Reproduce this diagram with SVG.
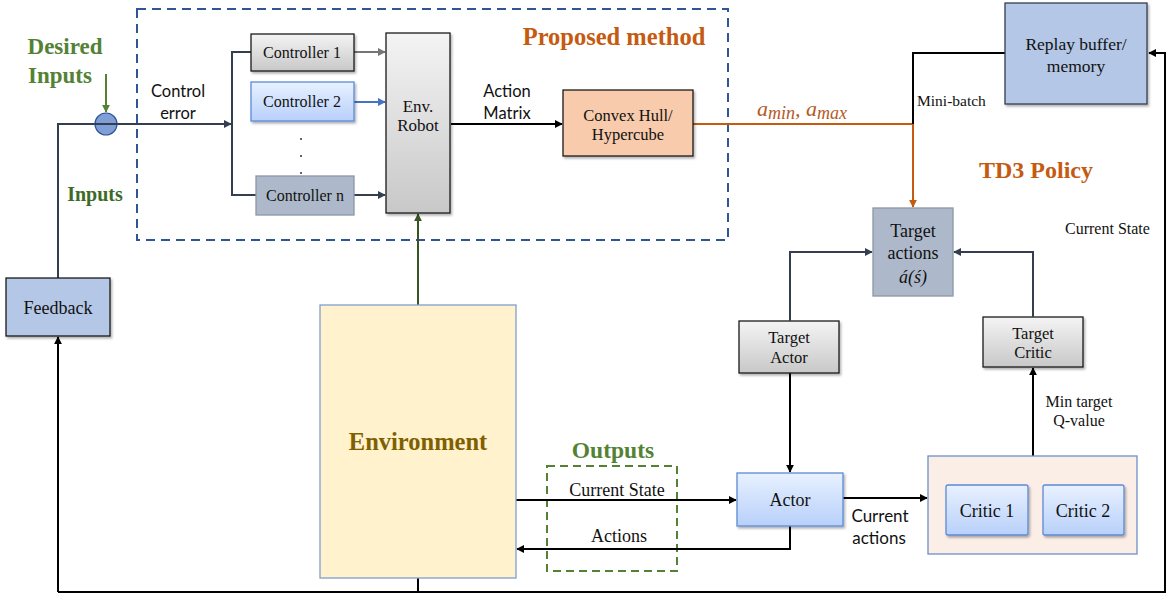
<svg xmlns="http://www.w3.org/2000/svg" width="1167" height="597" viewBox="0 0 1167 597">
<defs>
<linearGradient id="gGray" x1="0" y1="0" x2="0" y2="1"><stop offset="0" stop-color="#f4f4f4"/><stop offset="1" stop-color="#c8c8c8"/></linearGradient>
<linearGradient id="gBlue" x1="0" y1="0" x2="0" y2="1"><stop offset="0" stop-color="#e8f1ff"/><stop offset="1" stop-color="#b8d0fa"/></linearGradient>
<filter id="sh" x="-10%" y="-10%" width="130%" height="130%"><feDropShadow dx="1.5" dy="2" stdDeviation="0.8" flood-color="#000" flood-opacity="0.3"/></filter>
<marker id="aK" viewBox="0 0 10 10" refX="9" refY="5" markerWidth="8" markerHeight="8" markerUnits="userSpaceOnUse" orient="auto"><path d="M0,0 L10,5 L0,10 z" fill="#000"/></marker>
<marker id="aS" viewBox="0 0 10 10" refX="9" refY="5" markerWidth="8" markerHeight="8" markerUnits="userSpaceOnUse" orient="auto"><path d="M0,0 L10,5 L0,10 z" fill="#333f50"/></marker>
<marker id="aG" viewBox="0 0 10 10" refX="9" refY="5" markerWidth="8" markerHeight="8" markerUnits="userSpaceOnUse" orient="auto"><path d="M0,0 L10,5 L0,10 z" fill="#767676"/></marker>
<marker id="aB" viewBox="0 0 10 10" refX="9" refY="5" markerWidth="8" markerHeight="8" markerUnits="userSpaceOnUse" orient="auto"><path d="M0,0 L10,5 L0,10 z" fill="#4472c4"/></marker>
<marker id="aGr" viewBox="0 0 10 10" refX="9" refY="5" markerWidth="8" markerHeight="8" markerUnits="userSpaceOnUse" orient="auto"><path d="M0,0 L10,5 L0,10 z" fill="#548235"/></marker>
<marker id="aDG" viewBox="0 0 10 10" refX="9" refY="5" markerWidth="8" markerHeight="8" markerUnits="userSpaceOnUse" orient="auto"><path d="M0,0 L10,5 L0,10 z" fill="#375623"/></marker>
<marker id="aO" viewBox="0 0 10 10" refX="9" refY="5" markerWidth="8" markerHeight="8" markerUnits="userSpaceOnUse" orient="auto"><path d="M0,0 L10,5 L0,10 z" fill="#c55a11"/></marker>
</defs>
<style>
.t{font-family:"Liberation Serif","Times New Roman",serif;fill:#111;text-anchor:middle}
.s{font-family:Lato,"Liberation Sans",sans-serif;fill:#111;text-anchor:middle}
.b{font-family:"Liberation Serif","Times New Roman",serif;font-weight:bold;text-anchor:middle}
.box{stroke:#1a1a1a;stroke-width:1.3}
.c{fill:none;stroke-width:2}
</style>
<rect width="1167" height="597" fill="#fff"/>

<!-- frames -->
<g id="proposed-frame">
<rect x="137" y="9" width="591" height="231" fill="none" stroke="#2f5597" stroke-width="2" stroke-dasharray="9,6"/>
<text class="b" x="614" y="45" font-size="24.5" fill="#c55a11">Proposed method</text>
</g>
<g id="outputs-frame">
<rect x="547" y="466" width="130" height="105" fill="none" stroke="#548235" stroke-width="2" stroke-dasharray="8,5"/>
<text class="b" x="613" y="458" font-size="23.5" fill="#548235">Outputs</text>
</g>

<!-- connectors -->
<g id="connectors">
<path class="c" d="M58,279 V124 H231" stroke="#333f50" marker-end="url(#aS)"/>
<path class="c" d="M251,52 H232 V195 H256" stroke="#333f50"/>
<path class="c" d="M106,74 V112" stroke="#548235" stroke-width="1.6" marker-end="url(#aGr)"/>
<path class="c" d="M354,52 H385" stroke="#767676" marker-end="url(#aG)"/>
<path class="c" d="M354,102 H385" stroke="#4472c4" marker-end="url(#aB)"/>
<path class="c" d="M354,195 H385" stroke="#333f50" marker-end="url(#aS)"/>
<path class="c" d="M451,124 H562" stroke="#000" marker-end="url(#aK)"/>
<path class="c" d="M418,305 V214" stroke="#375623" marker-end="url(#aDG)"/>
<path class="c" d="M693,124 H913 V207" stroke="#c55a11" marker-end="url(#aO)"/>
<path class="c" d="M1005,53 H913 V124" stroke="#000"/>
<path class="c" d="M418,574 V592 M58,592 H1165 V53 H1149" stroke="#000" marker-end="url(#aK)"/>
<path class="c" d="M58,592 V337" stroke="#000" marker-end="url(#aK)"/>
<path class="c" d="M790,320 V252 H872" stroke="#333f50" marker-start="url(#aS)" marker-end="url(#aS)"/>
<path class="c" d="M1033,316 V252 H954" stroke="#333f50" marker-start="url(#aS)" marker-end="url(#aS)"/>
<path class="c" d="M790,373 V472" stroke="#000" marker-end="url(#aK)"/>
<path class="c" d="M516,500 H736" stroke="#000" marker-end="url(#aK)"/>
<path class="c" d="M790,526 V549 H517" stroke="#000" marker-end="url(#aK)"/>
<path class="c" d="M843,498 H927" stroke="#000" marker-end="url(#aK)"/>
<path class="c" d="M1033,456 V368" stroke="#000" marker-end="url(#aK)"/>
</g>

<!-- labels on connectors / free text -->
<g id="labels">
<text class="b" x="65" y="54" font-size="23" fill="#548235">Desired</text>
<text class="b" x="60" y="83" font-size="23" fill="#548235">Inputs</text>
<text class="b" x="95" y="201" font-size="20" fill="#3d6b25">Inputs</text>
<text class="s" x="178" y="97" font-size="16.5">Control</text>
<text class="s" x="178" y="119" font-size="16.5">error</text>
<text class="s" x="507" y="97" font-size="16.5">Action</text>
<text class="s" x="507" y="119" font-size="16.5">Matrix</text>
<text x="757" y="116" font-family="'Liberation Serif',serif" font-style="italic" font-size="22" fill="#b35a1f">a<tspan font-size="18" dy="3">min</tspan><tspan dy="-3">, a</tspan><tspan font-size="18" dy="3">max</tspan></text>
<text x="917" y="106" font-family="'Liberation Serif',serif" font-size="15.5" fill="#111">Mini-batch</text>
<text class="b" x="1036" y="178" font-size="24" fill="#c55a11">TD3 Policy</text>
<text x="1065" y="234" font-family="'Liberation Serif',serif" font-size="16" fill="#111">Current State</text>
<text class="t" x="617" y="496" font-size="18">Current State</text>
<text class="t" x="619" y="542" font-size="18">Actions</text>
<text class="s" x="880" y="522" font-size="17">Current</text>
<text class="s" x="879" y="544" font-size="17">actions</text>
<text class="t" x="1079" y="407" font-size="16">Min target</text>
<text class="t" x="1079" y="426" font-size="16">Q-value</text>
</g>
<g id="dots" fill="#333"><circle cx="301" cy="139" r="1"/><circle cx="301" cy="156" r="1"/><circle cx="301" cy="173" r="1"/></g>

<!-- nodes -->
<g id="sum"><circle cx="106" cy="124" r="11" fill="#7f9fd6" stroke="#2f5597" stroke-width="1.2"/><path d="M95,124 H117" stroke="#333f50" stroke-width="2"/></g>
<g id="controller1"><rect class="box" x="251" y="34" width="103" height="37" fill="url(#gGray)" filter="url(#sh)"/><text class="t" x="302" y="58" font-size="16">Controller 1</text></g>
<g id="controller2"><rect x="251" y="82" width="103" height="39" fill="url(#gBlue)" stroke="#5b8bd6" stroke-width="1.3" filter="url(#sh)"/><text class="t" x="302" y="107" font-size="16">Controller 2</text></g>
<g id="controllern"><rect x="256" y="176" width="98" height="39" fill="#adb9ca" stroke="#8c96a5" stroke-width="1.3"/><text class="t" x="305" y="201" font-size="16">Controller n</text></g>
<g id="envrobot"><rect class="box" x="386" y="33" width="64" height="180" fill="url(#gGray)" filter="url(#sh)"/><text class="t" x="418" y="112" font-size="17" fill="#333">Env.</text><text class="t" x="418" y="131" font-size="17" fill="#333">Robot</text></g>
<g id="convexhull"><rect class="box" x="563" y="90" width="130" height="66" fill="#f8cbad" filter="url(#sh)"/><text class="t" x="628" y="121" font-size="16.5" fill="#333">Convex Hull/</text><text class="t" x="628" y="140" font-size="16.5" fill="#333">Hypercube</text></g>
<g id="replay"><rect x="1005" y="3" width="142" height="101" fill="#b4c7e7" stroke="#333f50" stroke-width="1.3" filter="url(#sh)"/><text class="t" x="1076" y="50" font-size="17.5">Replay buffer/</text><text class="t" x="1076" y="72" font-size="17.5">memory</text></g>
<g id="feedback"><rect class="box" x="6" y="278" width="104" height="58" fill="#b4c7e7" filter="url(#sh)"/><text class="t" x="58" y="314" font-size="18">Feedback</text></g>
<g id="environment"><rect x="320" y="305" width="196" height="273" fill="#fff2cc" stroke="#7f9fcf" stroke-width="1.3"/><text class="b" x="418" y="450" font-size="24.5" fill="#7f6000">Environment</text></g>
<g id="targetactions"><rect x="873" y="208" width="80" height="88" fill="#adb9ca" stroke="#8c96a5" stroke-width="1.3"/><text class="t" x="913" y="237" font-size="18">Target</text><text class="t" x="913" y="259" font-size="18">actions</text><text class="t" x="913" y="283" font-size="18" font-style="italic">á(ś)</text></g>
<g id="targetactor"><rect class="box" x="739" y="321" width="100" height="52" fill="url(#gGray)" filter="url(#sh)"/><text class="t" x="789" y="343" font-size="16.5">Target</text><text class="t" x="789" y="363" font-size="16.5">Actor</text></g>
<g id="targetcritic"><rect class="box" x="983" y="317" width="100" height="50" fill="url(#gGray)" filter="url(#sh)"/><text class="t" x="1033" y="339" font-size="16.5">Target</text><text class="t" x="1033" y="358" font-size="16.5">Critic</text></g>
<g id="actor"><rect x="737" y="473" width="106" height="53" fill="url(#gBlue)" stroke="#5b8bd6" stroke-width="1.3" filter="url(#sh)"/><text class="t" x="790" y="506" font-size="18">Actor</text></g>
<g id="critics"><rect x="928" y="456" width="209" height="98" fill="#fbeee6" stroke="#6f8fc9" stroke-width="1.3"/>
<rect x="946" y="485" width="82" height="50" rx="2" fill="url(#gBlue)" stroke="#5b8bd6" stroke-width="1.3" filter="url(#sh)"/><text class="t" x="987" y="517" font-size="18">Critic 1</text>
<rect x="1043" y="485" width="81" height="50" rx="2" fill="url(#gBlue)" stroke="#5b8bd6" stroke-width="1.3" filter="url(#sh)"/><text class="t" x="1083" y="517" font-size="18">Critic 2</text></g>
</svg>
